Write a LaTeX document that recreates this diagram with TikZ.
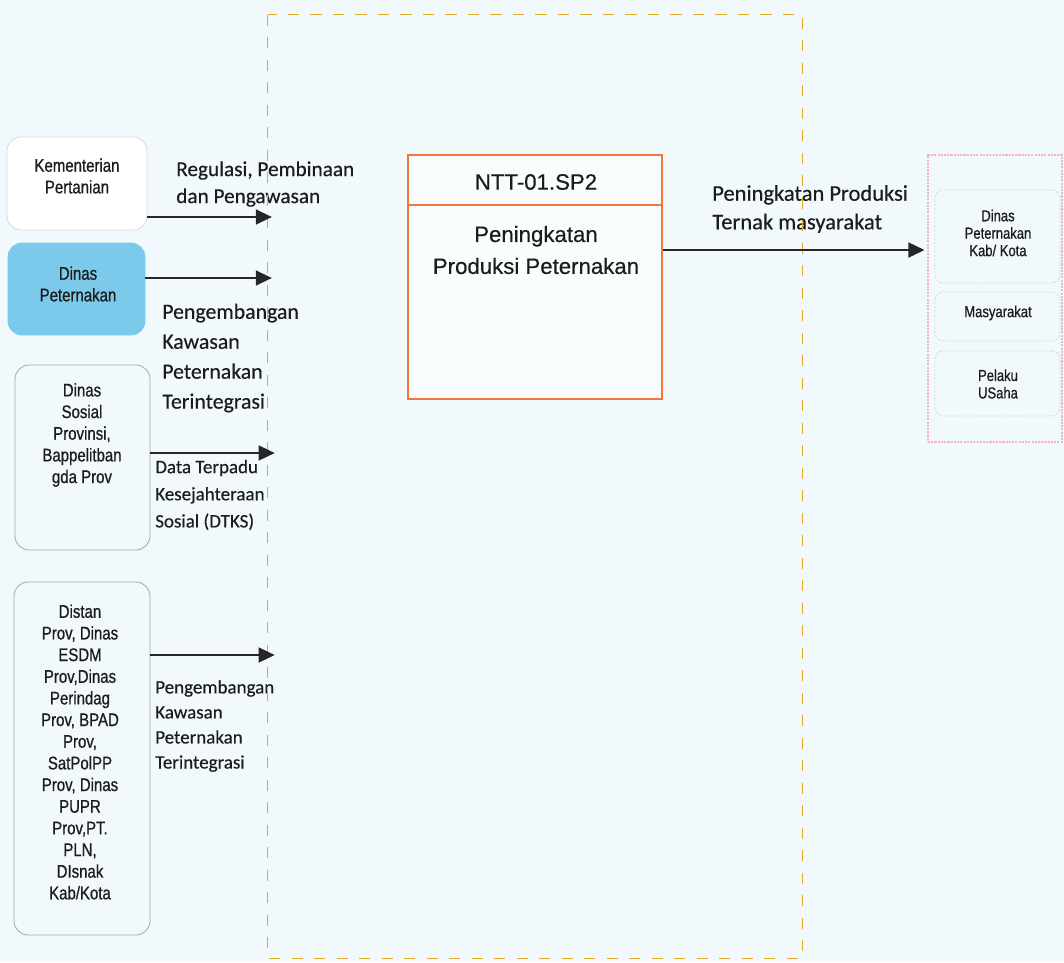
\documentclass[tikz,border=0pt]{standalone}
\usepackage{fontspec}
\setmainfont{Liberation Sans}[FakeBold=0.4]
\newfontfamily\boxfont{Liberation Sans}[FakeStretch=0.82,FakeBold=0.7]
\newfontfamily\calfont{Carlito}[FakeBold=0.4]
\usetikzlibrary{arrows.meta,fit}
\definecolor{bg}{HTML}{F2F9FC}
\definecolor{ylw}{HTML}{E2AD26}
\definecolor{org}{HTML}{F0783C}
\definecolor{pnk}{HTML}{F2B4C6}
\definecolor{sky}{HTML}{7CCAEB}
\definecolor{boxgray}{HTML}{A8A8A8}
\definecolor{faint}{HTML}{D6DBDE}
\definecolor{txt}{HTML}{1C1C1C}
\tikzset{
  orgbox/.style={draw=boxgray, line width=0.6pt, rounded corners=10pt, inner sep=0pt},
  orgtext/.style={font=\boxfont\fontsize{13}{15.4}\selectfont, align=center, text=txt, inner sep=0pt},
  rtext/.style={font=\boxfont\fontsize{11.3}{12.4}\selectfont, align=center, text=txt, inner sep=0pt},
  lbl/.style={font=\calfont\fontsize{15.5}{21.3}\selectfont, align=left, anchor=west, inner sep=0pt, text=txt},
  lblsmall/.style={lbl, font=\calfont\fontsize{13.5}{19.3}\selectfont},
  arr/.style={line width=1.8pt, draw=black!85, -{Triangle[length=11.5pt,width=10.5pt]}},
  sysbox/.style={draw=ylw, line width=1pt, dash pattern=on 8pt off 8pt, inner sep=0pt},
}
\begin{document}
\begin{tikzpicture}[x=0.025cm,y=-0.025cm]
\useasboundingbox (0,0) rectangle (1064,962);
\fill[bg] (0,0) rectangle (1064,962);

% left organisations
\node[orgbox, fill=white, draw=faint, fit={(7,137) (147,230)}] (kem) {};
\node[orgtext] (kemt) at (77,176) {Kementerian\\Pertanian};
\node[orgbox, fill=sky, draw=sky, fit={(8,243) (145,335)}] (dnp) {};
\node[orgtext] (dnpt) at (78,284) {Dinas\\Peternakan};
\node[orgbox, fit={(15,365) (150,550)}] (sos) {};
\node[orgtext] (sost) at (82,435) {Dinas\\Sosial\\Provinsi,\\Bappelitban\\gda Prov};
\node[orgbox, fit={(14,582) (150,935)}] (dst) {};
\node[orgtext] (dstt) at (80,752) {Distan\\Prov, Dinas\\ESDM\\Prov,Dinas\\Perindag\\Prov, BPAD\\Prov,\\SatPolPP\\Prov, Dinas\\PUPR\\Prov,PT.\\PLN,\\DIsnak\\Kab/Kota};

% system boundary
\node[fit={(268,15) (802,958)}, inner sep=0pt] (sys) {};

% central process
\node[draw=org, line width=1.3pt, fill=white!60!bg, inner sep=0pt, fit={(408,155) (662,399)}] (ntt) {};
\coordinate (dv) at (0,205);
\draw[org, line width=1.3pt] (ntt.west |- dv) -- (ntt.east |- dv);
\node[font=\fontsize{15.8}{18}\selectfont, text=txt, inner sep=0pt] (ntth) at (536,182) {NTT-01.SP2};
\node[font=\fontsize{15.8}{22.7}\selectfont, text=txt, align=center, inner sep=0pt] (nttb) at (536,250) {Peningkatan\\Produksi Peternakan};

% right recipients
\node[draw=pnk, line width=0.9pt, dash pattern=on 1.5pt off 0.8pt, inner sep=0pt, fit={(928,155) (1062,442)}] (rcv) {};
\node[draw=faint, line width=0.6pt, dash pattern=on 2pt off 1pt, rounded corners=6pt, inner sep=0pt, fit={(935,190) (1060,283)}] (r1) {};
\node[draw=faint, line width=0.6pt, dash pattern=on 2pt off 1pt, rounded corners=6pt, inner sep=0pt, fit={(935,292) (1060,341)}] (r2) {};
\node[draw=faint, line width=0.6pt, dash pattern=on 2pt off 1pt, rounded corners=6pt, inner sep=0pt, fit={(935,351) (1060,416)}] (r3) {};
\node[rtext] (r1t) at (998,233) {Dinas\\Peternakan\\Kab/ Kota};
\node[rtext] (r2t) at (998,313) {Masyarakat};
\node[rtext] (r3t) at (998,384) {Pelaku\\USaha};

% labels
\node[lbl, font=\calfont\fontsize{15.1}{19.2}\selectfont] (l1) at (176,184) {Regulasi, Pembinaan\\dan Pengawasan};
\node[lbl] (l2) at (162,358) {Pengembangan\\Kawasan\\Peternakan\\Terintegrasi};
\node[lblsmall] (l3) at (155,495) {Data Terpadu\\Kesejahteraan\\Sosial (DTKS)};
\node[lblsmall, font=\calfont\fontsize{13.5}{17.8}\selectfont] (l4) at (155,726) {Pengembangan\\Kawasan\\Peternakan\\Terintegrasi};
\node[lbl, font=\calfont\fontsize{16}{20.3}\selectfont] (l5) at (712,209) {Peningkatan Produksi\\Ternak masyarakat};

% dashed boundary drawn over labels
\draw[sysbox] (sys.north west) rectangle (sys.south east);

% connectors
\coordinate (y1) at (0,217);
\coordinate (y2) at (0,278);
\coordinate (y3) at (0,453);
\coordinate (y4) at (0,655);
\coordinate (y5) at (0,250);
\draw[arr] (kem.east |- y1) -- ([xshift=3pt]sys.west |- y1);
\draw[arr] (dnp.east |- y2) -- ([xshift=3pt]sys.west |- y2);
\draw[arr] (sos.east |- y3) -- ([xshift=5pt]sys.west |- y3);
\draw[arr] (dst.east |- y4) -- ([xshift=5pt]sys.west |- y4);
\draw[arr] (ntt.east |- y5) -- ([xshift=-2pt]rcv.west |- y5);
\end{tikzpicture}
\end{document}
